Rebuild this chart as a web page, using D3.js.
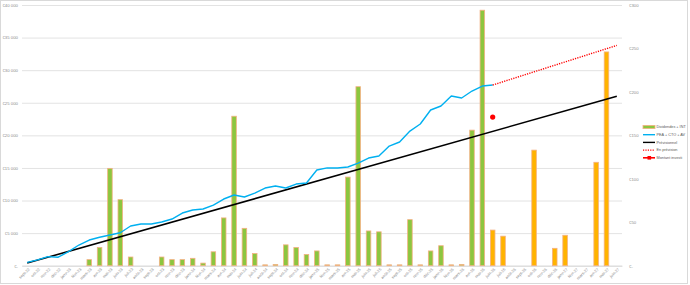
<!DOCTYPE html>
<html>
<head>
<meta charset="utf-8">
<script src="https://cdn.jsdelivr.net/npm/d3@7"></script>
<style>
  body { margin: 0; background: #fff; }
  svg { display: block; font-family: "Liberation Sans", Arial, sans-serif; }
</style>
</head>
<body>
<svg id="chart" width="690" height="285"></svg>
<script>
// mois (sept-22 -> juin-27)
var months = ["sept-22","oct-22","nov-22","déc-22",
  "janv-23","févr-23","mars-23","avr-23","mai-23","juin-23","juil-23","août-23","sept-23","oct-23","nov-23","déc-23",
  "janv-24","févr-24","mars-24","avr-24","mai-24","juin-24","juil-24","août-24","sept-24","oct-24","nov-24","déc-24",
  "janv-25","févr-25","mars-25","avr-25","mai-25","juin-25","juil-25","août-25","sept-25","oct-25","nov-25","déc-25",
  "janv-26","févr-26","mars-26","avr-26","mai-26","juin-26","juil-26","août-26","sept-26","oct-26","nov-26","déc-26",
  "janv-27","févr-27","mars-27","avr-27","mai-27","juin-27"];

// dividendes + interets (axe droit), reels jusqu'a mai-26 puis prevision
var dividends = [0,0,0,0,0,0,7,21,112,76,10,0,0,10,7,7,8.5,3,16,55,172,43,14,1,1.5,24,21,13,17,1,1,102,206,40,39,1,1,53,1,17,23,1,1.5,156,294];
var dividendsForecast = [41,34,0,0,133,0,20,35,0,0,119,246,0];

// PEA + CTO + AV (axe gauche)
var portfolio = [500,900,1400,1300,2150,3175,3940,4360,4710,5060,6090,6400,6400,6700,7160,8080,8540,8700,9300,10230,
  10850,10540,11150,11920,12230,11920,12530,12690,14680,15000,15000,15140,15750,16520,16830,18360,18980,20660,21740,
  23890,24500,26030,25730,26800,27570,27720];

// Prévisionnel (droite), En prévision, Montant investi
var trendMonths = ["sept-22","juin-27"], trendValues = [400, 26000];
var forecastMonths = ["juin-26","juin-27"], forecastValues = [27720, 33800];
var investedMonths = ["juin-26"], investedValues = [22800];

var leftTicks = [0,5000,10000,15000,20000,25000,30000,35000,40000];
var rightTicks = [0,50,100,150,200,250,300];
var legendLabels = ["Dividendes + INT","PEA + CTO + AV","Prévisionnel","En prévision","Montant investi"];

var svg = d3.select("#chart");
var plotL = 22, plotR = 622, plotT = 5, plotB = 265.7;

svg.append("rect").attr("x",0.5).attr("y",0.5).attr("width",687).attr("height",283)
  .attr("fill","#fff").attr("stroke","#d9d9d9");

var x = d3.scaleBand().domain(months).range([plotL,plotR]).paddingInner(0.56).paddingOuter(0.28);
var yL = d3.scaleLinear().domain([0,40000]).range([plotB,plotT]);
var yR = d3.scaleLinear().domain([0,300]).range([plotB,plotT]);
var cx = function(m) { return x(m) + x.bandwidth()/2; };

var fmtL = function(d) { return d === 0 ? "€-" : "€" + d3.format(",")(d).replace(/,/g," "); };
var fmtR = function(d) { return d === 0 ? "€-" : "€" + d; };

// grille + axe gauche
var gL = svg.append("g").attr("transform","translate(" + plotL + ",0)")
  .call(d3.axisLeft(yL).tickValues(leftTicks).tickFormat(fmtL).tickSize(-(plotR-plotL)).tickPadding(4));
gL.select(".domain").remove();
gL.selectAll(".tick line").attr("stroke","#e3e3e3").attr("stroke-width",1);
gL.selectAll("text").attr("fill","#8c8c8c").attr("font-size",4.3);

var gR = svg.append("g").attr("transform","translate(" + plotR + ",0)")
  .call(d3.axisRight(yR).tickValues(rightTicks).tickFormat(fmtR).tickSize(0).tickPadding(7));
gR.select(".domain").remove();
gR.selectAll("text").attr("fill","#8c8c8c").attr("font-size",4.3);

// axe x
var gX = svg.append("g").attr("transform","translate(0," + plotB + ")")
  .call(d3.axisBottom(x).tickSize(0).tickPadding(0));
gX.select(".domain").attr("stroke","#d9d9d9");
gX.selectAll("text").attr("fill","#8c8c8c").attr("font-size",4)
  .attr("text-anchor","end").attr("dy","0.3em")
  .attr("transform","translate(2,3) rotate(-45)");

// barres
var divData = months.map(function(m,i) {
  return i < dividends.length ? {m:m, v:dividends[i], f:false} : {m:m, v:dividendsForecast[i-dividends.length], f:true};
});
svg.append("g").selectAll("rect").data(divData.filter(function(d){ return d.v > 0; })).join("rect")
  .attr("x", function(d){ return x(d.m); })
  .attr("y", function(d){ return yR(d.v); })
  .attr("width", x.bandwidth())
  .attr("height", function(d){ return plotB - yR(d.v); })
  .attr("fill", function(d){ return d.f ? "#ffb300" : "#8cc63f"; })
  .attr("stroke", "#f4b183").attr("stroke-width", 0.8);

// lignes
var line = d3.line().x(function(d){ return cx(d[0]); }).y(function(d){ return yL(d[1]); });

svg.append("path").attr("d", line(d3.zip(trendMonths, trendValues)))
  .attr("fill","none").attr("stroke","#000").attr("stroke-width",1.6);

svg.append("path").attr("d", line(d3.zip(months.slice(0, portfolio.length), portfolio)))
  .attr("fill","none").attr("stroke","#00b0f0").attr("stroke-width",1.4).attr("stroke-linejoin","round");

svg.append("path").attr("d", line(d3.zip(forecastMonths, forecastValues)))
  .attr("fill","none").attr("stroke","#ff0000").attr("stroke-width",1.4).attr("stroke-dasharray","1.2,1.2");

svg.append("g").selectAll("circle").data(d3.zip(investedMonths, investedValues)).join("circle")
  .attr("cx", function(d){ return cx(d[0]); }).attr("cy", function(d){ return yL(d[1]); })
  .attr("r", 2.6).attr("fill","#ff0000");

// legende
var lg = svg.append("g").attr("transform","translate(643,127)");
var items = lg.selectAll("g").data(legendLabels).join("g")
  .attr("transform", function(d,i){ return "translate(0," + (i*7.7) + ")"; });
items.append("text").attr("x",13.5).attr("y",0).attr("dy","0.35em")
  .attr("font-size",3.8).attr("fill","#595959").text(function(d){ return d; });
items.each(function(d,i) {
  var g = d3.select(this);
  if (i === 0) {
    g.append("rect").attr("x",0).attr("y",-1.6).attr("width",12).attr("height",3.2)
      .attr("fill","#8cc63f").attr("stroke","#f4b183").attr("stroke-width",0.8);
  } else if (i === 1) {
    g.append("line").attr("x1",0).attr("x2",12).attr("stroke","#00b0f0").attr("stroke-width",1.4);
  } else if (i === 2) {
    g.append("line").attr("x1",0).attr("x2",12).attr("stroke","#000").attr("stroke-width",1.4);
  } else if (i === 3) {
    g.append("line").attr("x1",0).attr("x2",12).attr("stroke","#ff0000").attr("stroke-width",1.3).attr("stroke-dasharray","1.2,1.2");
  } else {
    g.append("line").attr("x1",0).attr("x2",12).attr("stroke","#ff0000").attr("stroke-width",1.6);
    g.append("rect").attr("x",4.5).attr("y",-1.8).attr("width",3.6).attr("height",3.6).attr("fill","#ff0000");
  }
});
</script>
</body>
</html>
